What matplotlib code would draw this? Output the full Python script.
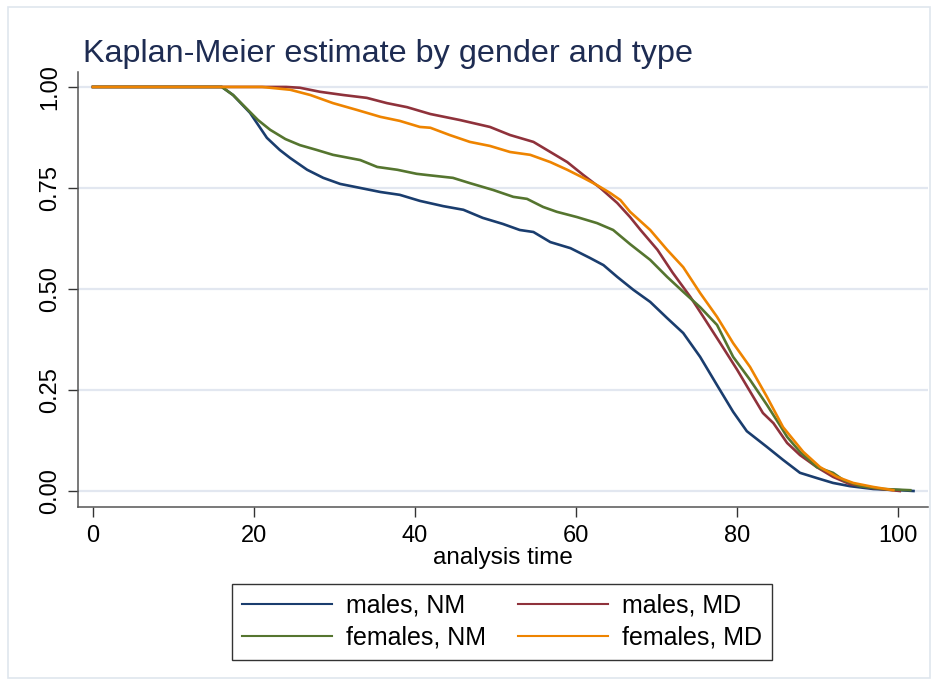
import matplotlib
matplotlib.use("Agg")
import matplotlib.pyplot as plt
from matplotlib.patches import Rectangle

plt.rcParams['font.family'] = ['Liberation Sans', 'DejaVu Sans']

# Kaplan-Meier survival estimates (analysis time, survivor function)
males_nm_t = [0, 16.0, 17.4, 19.5, 21.6, 23.2, 24.5, 26.6, 28.6, 30.7, 33.2, 35.7, 38.1,
              40.6, 43.5, 46.0, 48.4, 50.9, 53.0, 54.7, 56.8, 59.3, 61.7, 63.4, 65.1,
              67.1, 69.2, 71.3, 73.3, 75.4, 77.5, 79.5, 81.2, 83.7, 85.7, 87.8, 89.9,
              91.9, 94.0, 96.9, 100.2, 101.9]
males_nm_s = [1.0, 1.0, 0.980, 0.936, 0.874, 0.844, 0.824, 0.795, 0.775, 0.760, 0.750, 0.740, 0.733,
              0.718, 0.705, 0.696, 0.676, 0.661, 0.646, 0.641, 0.616, 0.601, 0.577, 0.559, 0.530,
              0.498, 0.468, 0.428, 0.391, 0.332, 0.262, 0.196, 0.148, 0.109, 0.077, 0.045, 0.032,
              0.020, 0.012, 0.005, 0.002, 0.0]

males_md_t = [0, 24.0, 25.7, 28.2, 31.1, 34.0, 36.5, 39.0, 41.9, 45.6, 49.3, 51.8, 54.7,
              56.8, 58.9, 60.9, 63.0, 65.1, 66.7, 68.0, 70.1, 72.0, 74.2, 75.8, 77.9,
              80.0, 82.0, 83.2, 84.5, 86.2, 87.8, 89.9, 91.9, 94.0, 96.9, 100.2]
males_md_s = [1.0, 1.0, 0.998, 0.988, 0.980, 0.973, 0.960, 0.950, 0.933, 0.918, 0.901, 0.881, 0.864,
              0.839, 0.814, 0.782, 0.750, 0.713, 0.678, 0.646, 0.597, 0.540, 0.480, 0.431, 0.366,
              0.300, 0.233, 0.193, 0.168, 0.119, 0.089, 0.059, 0.035, 0.017, 0.007, 0.0]

females_nm_t = [0, 16.0, 17.4, 19.5, 20.5, 22.0, 23.9, 25.7, 27.8, 29.8, 33.2, 35.3, 37.8,
                40.2, 41.5, 44.7, 46.8, 49.7, 52.2, 53.9, 55.9, 57.6, 60.1, 62.6, 64.6,
                66.7, 69.2, 71.3, 73.3, 75.4, 77.5, 79.5, 81.6, 83.7, 85.3, 86.2, 87.8,
                89.9, 91.9, 93.2, 95.3, 98.1, 101.5]
females_nm_s = [1.0, 1.0, 0.980, 0.938, 0.918, 0.894, 0.871, 0.856, 0.844, 0.832, 0.819, 0.802, 0.795,
                0.785, 0.782, 0.775, 0.762, 0.745, 0.728, 0.723, 0.703, 0.691, 0.678, 0.663, 0.646,
                0.611, 0.572, 0.530, 0.493, 0.455, 0.411, 0.332, 0.275, 0.213, 0.163, 0.134, 0.097,
                0.059, 0.045, 0.027, 0.012, 0.005, 0.002]

females_md_t = [0, 21.0, 24.5, 27.0, 29.8, 32.8, 35.7, 38.1, 40.6, 41.9, 44.3, 46.8, 49.3,
                51.8, 54.3, 56.8, 58.9, 60.9, 62.6, 64.2, 65.5, 66.7, 69.2, 71.3, 73.3,
                75.4, 77.5, 79.5, 81.6, 83.7, 85.7, 88.2, 90.3, 92.4, 94.4, 96.9, 99.4]
females_md_s = [1.0, 1.0, 0.993, 0.980, 0.960, 0.943, 0.926, 0.916, 0.901, 0.899, 0.881, 0.864, 0.854,
                0.839, 0.832, 0.814, 0.795, 0.775, 0.757, 0.738, 0.720, 0.691, 0.646, 0.597, 0.554,
                0.490, 0.431, 0.366, 0.307, 0.233, 0.158, 0.097, 0.059, 0.035, 0.020, 0.010, 0.002]

x_ticks = [0, 20, 40, 60, 80, 100]
y_ticks = [0.0, 0.25, 0.5, 0.75, 1.0]
y_ticklabels = ["0.00", "0.25", "0.50", "0.75", "1.00"]

fig = plt.figure(figsize=(9.38, 6.86), dpi=100)
fig.patch.set_facecolor("white")
fig.add_artist(Rectangle((8 / 938, 8 / 686), 1 - 16 / 938, 1 - 15 / 686,
                         transform=fig.transFigure, fill=False,
                         edgecolor="#dfe6ee", linewidth=1.2))

ax = fig.add_axes([78 / 938, 1 - 507 / 686, (928 - 78) / 938, (507 - 72) / 686])
ax.set_xlim(-1.86, 103.7)
ax.set_ylim(-0.0396, 1.037)

for y in y_ticks:
    ax.axhline(y, color="#e2e7f0", linewidth=1.6, zorder=0)

lw = 1.9
ax.plot(males_nm_t, males_nm_s, color="#1a3d6e", lw=lw, label="males, NM")
ax.plot(males_md_t, males_md_s, color="#8f323b", lw=lw, label="males, MD")
ax.plot(females_nm_t, females_nm_s, color="#55752f", lw=lw, label="females, NM")
ax.plot(females_md_t, females_md_s, color="#ee8400", lw=lw, label="females, MD")

for s in ["top", "right"]:
    ax.spines[s].set_visible(False)
for s in ["left", "bottom"]:
    ax.spines[s].set_color("#555555")
    ax.spines[s].set_linewidth(1.1)

ax.set_xticks(x_ticks)
ax.set_yticks(y_ticks)
ax.set_yticklabels(y_ticklabels, rotation=90, va="center")
ax.tick_params(axis="both", labelsize=17, length=7, width=1.0, color="#333333")
ax.tick_params(axis="x", pad=6)
ax.tick_params(axis="y", pad=5)

ax.set_xlabel("analysis time", fontsize=17.5, labelpad=0)

fig.text(83 / 938, 1 - 62 / 686, "Kaplan-Meier estimate by gender and type",
         fontsize=23.3, color="#1e2c52", ha="left", va="baseline")

# two columns: males in the first row, females in the second
handles, labels = ax.get_legend_handles_labels()
order = [0, 2, 1, 3]
leg = fig.legend([handles[i] for i in order], [labels[i] for i in order],
                 loc="upper center", bbox_to_anchor=(501.5 / 938, 1 - 584 / 686),
                 ncol=2, fontsize=18, frameon=True, fancybox=False,
                 borderaxespad=0, handlelength=3.6, handletextpad=0.56,
                 columnspacing=1.28, borderpad=0.4, labelspacing=0.3)
leg.get_frame().set_edgecolor("black")
leg.get_frame().set_linewidth(1.0)
for line in leg.get_lines():
    line.set_linewidth(1.5)

fig.savefig("out.png", dpi=100, facecolor="white")
